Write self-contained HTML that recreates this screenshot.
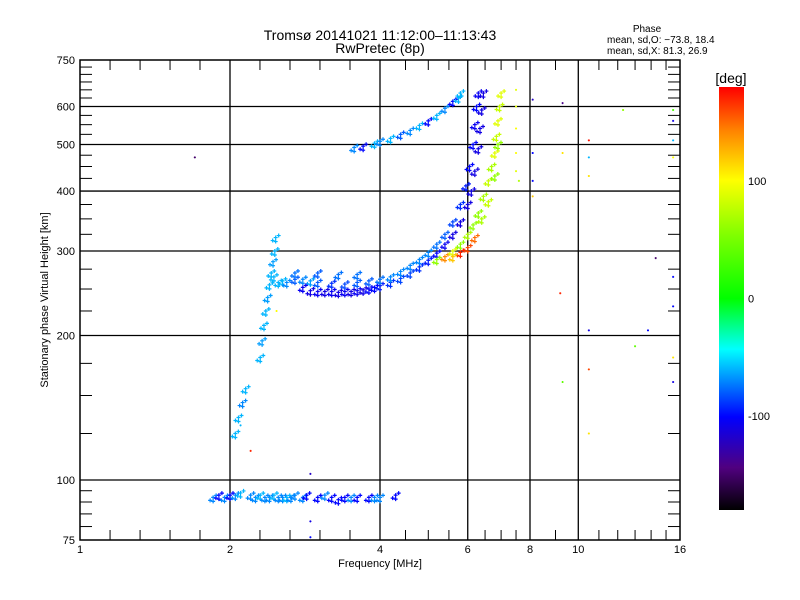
<!DOCTYPE html>
<html><head><meta charset="utf-8"><style>
html,body{margin:0;padding:0;background:#fff;width:800px;height:600px;overflow:hidden}
svg{display:block}
text{font-family:"Liberation Sans",sans-serif;fill:#000}
</style></head><body>
<svg id="chart" width="800" height="600" viewBox="0 0 800 600" xmlns="http://www.w3.org/2000/svg">
<defs>
<linearGradient id="cmap" x1="0" y1="1" x2="0" y2="0">
<stop offset="0" stop-color="#000000"/><stop offset="0.1" stop-color="#50007f"/><stop offset="0.22" stop-color="#0000ff"/><stop offset="0.38" stop-color="#00ffff"/><stop offset="0.5" stop-color="#00ff00"/><stop offset="0.65" stop-color="#80ff00"/><stop offset="0.78" stop-color="#ffff00"/><stop offset="0.9" stop-color="#ff8000"/><stop offset="1" stop-color="#ff0000"/>
</linearGradient>
</defs>
<text x="380" y="40" text-anchor="middle" font-size="14">Tromsø 20141021 11:12:00–11:13:43</text>
<text x="380" y="53" text-anchor="middle" font-size="14">RwPretec (8p)</text>
<g font-size="10">
<text x="647" y="32" text-anchor="middle">Phase</text>
<text x="607" y="43">mean, sd,O: −73.8, 18.4</text>
<text x="607" y="54">mean, sd,X:  81.3, 26.9</text>
</g>
<g id="grid"></g>
<g id="marks"></g>
<rect x="80" y="60" width="600" height="480" fill="none" stroke="#000" stroke-width="1.5"/>
<g id="ticks"></g>
<text x="380" y="567" text-anchor="middle" font-size="11">Frequency [MHz]</text>
<text transform="translate(48,300) rotate(-90)" text-anchor="middle" font-size="11">Stationary phase Virtual Height [km]</text>
<rect x="719" y="87" width="25" height="423" fill="url(#cmap)"/>
<text x="731" y="83" text-anchor="middle" font-size="14">[deg]</text>
<g id="cbticks" font-size="11"></g>
</svg>
<script>
var xMajor=[1,2,4,6,8,10,16];
var xMinor=[1.149,1.32,1.516,1.741,2.297,2.639,3.031,3.482,4.5,5,5.5,6.5,7,7.5,9,11,12,13,14,15];
var yMajor=[75,100,200,300,400,500,600,750];
var yMinor=[80,85,90,95,125,150,175,225,250,275,325,350,375,425,450,475,525,550,575,625,650,675,700,725];
var cbTicks=[100,0,-100];
var freq=[1.85,1.9,1.95,2.0,2.05,2.1,2.2,2.25,2.3,2.35,2.4,2.45,2.5,2.55,2.6,2.65,2.7,2.8,2.85,3.0,3.1,3.2,3.3,3.4,3.5,3.6,3.8,3.9,4.0,4.3,
2.05,2.08,2.12,2.15,2.3,2.32,2.34,2.36,2.38,2.4,2.42,2.44,2.46,2.47,2.45,2.5,2.55,2.6,2.7,2.8,2.9,
2.8,2.9,3.0,3.1,3.2,3.3,3.4,3.5,3.6,3.7,3.8,3.9,4.0,4.2,4.4,4.6,4.8,5.0,5.2,5.4,5.6,5.8,6.0,6.1,6.2,6.3,6.35,6.4,6.45,
3.0,3.2,3.4,3.6,3.8,4.0,4.2,4.4,4.6,4.8,5.0,5.2,5.4,5.6,5.8,5.95,6.05,6.15,6.2,6.25,6.3,
2.7,3.0,3.3,3.6,
5.2,5.4,5.6,5.8,6.0,6.15,6.3,6.45,6.6,6.7,6.8,6.85,6.9,6.95,7.0,6.9,6.8,6.6,6.4,6.2,6.0,5.8,5.6,
3.55,3.7,3.9,4.0,4.2,4.4,4.6,4.8,5.0,5.2,5.4,5.6,5.8,5.75,
1.7,2.1,2.2,2.48,2.9,2.9,2.9,7.5,7.5,7.5,7.5,7.5,7.6,8.1,8.1,8.1,8.1,9.3,9.3,9.2,9.3,10.5,10.5,10.5,10.5,10.5,10.5,12.3,13.0,13.8,14.3,15.5,15.5,15.5,15.5,15.5,15.5,15.5,15.5];
var height=[92,93,92,93,93,94,93,92,93,92,92,93,92,92,92,92,93,92,93,92,93,92,91,92,92,92,92,92,92,93,
125,135,145,155,180,195,210,225,240,255,270,285,300,320,265,258,260,258,262,262,260,
252,248,247,247,247,246,247,247,248,249,250,252,254,258,263,270,278,287,297,310,325,345,375,400,440,490,540,590,640,
258,257,256,258,260,262,265,272,280,288,298,310,325,345,375,410,450,500,550,600,640,
270,270,268,268,
288,292,300,310,325,340,360,390,420,450,480,520,560,600,640,500,430,380,350,320,305,298,292,
493,496,503,508,515,525,535,548,560,575,595,615,640,625,
470,130,115,225,103,82,76,650,600,540,480,440,420,420,390,480,620,610,480,245,160,510,470,430,205,170,125,590,190,205,290,590,560,510,470,265,230,180,160];
var phase=[-70,-100,-70,-100,-70,-60,-70,-70,-60,-70,-70,-60,-70,-70,-60,-70,-70,-70,-100,-100,-70,-100,-100,-100,-70,-100,-100,-70,-70,-100,
-60,-60,-70,-60,-60,-65,-60,-60,-65,-60,-60,-65,-60,-60,-60,-60,-60,-70,-80,-70,-65,
-105,-110,-105,-110,-105,-110,-105,-110,-105,-110,-100,-100,-95,-90,-85,-85,-90,-95,-100,-105,-110,-110,-110,-110,-110,-110,-110,-110,-110,
-80,-90,-85,-80,-80,-75,-70,-70,-70,-70,-70,-75,-80,-85,-90,-95,-100,-100,-105,-100,-105,
-75,-80,-75,-75,
60,140,90,60,70,60,60,70,80,70,90,80,90,80,90,60,60,80,70,150,160,170,120,
-70,-100,-60,-70,-60,-80,-70,-60,-100,-60,-70,-100,-60,-60,
-150,-60,170,100,-120,-110,-100,90,90,100,100,90,70,-100,120,-100,-120,-140,110,170,40,175,-60,110,-110,160,110,60,40,-100,-150,30,-110,-60,100,-100,-100,110,-110];
var traceCount=142;

var NS="http://www.w3.org/2000/svg";
function X(f){return 80+150*Math.log2(f);}
function Y(h){return 540-480*Math.log10(h/75);}
function el(tag,attrs,parent){var e=document.createElementNS(NS,tag);for(var k in attrs)e.setAttribute(k,attrs[k]);parent.appendChild(e);return e;}
var stops=[[0,[0,0,0]],[0.1,[80,0,127]],[0.22,[0,0,255]],[0.38,[0,255,255]],[0.5,[0,255,0]],[0.65,[128,255,0]],[0.78,[255,255,0]],[0.9,[255,128,0]],[1,[255,0,0]]];
function cmap(p){var t=(p+180)/360;t=Math.max(0,Math.min(1,t));for(var i=1;i<stops.length;i++){if(t<=stops[i][0]){var a=stops[i-1],b=stops[i],u=(t-a[0])/(b[0]-a[0]);var c=[0,1,2].map(function(j){return Math.round(a[1][j]+(b[1][j]-a[1][j])*u);});return "rgb("+c.join(",")+")";}}return "rgb(255,0,0)";}
var grid=document.getElementById('grid'),ticks=document.getElementById('ticks'),marks=document.getElementById('marks'),cbt=document.getElementById('cbticks');
xMajor.forEach(function(f){var x=X(f);
 if(f>1&&f<16){var g=el('line',{x1:x,y1:60,x2:x,y2:540,stroke:'#000','stroke-width':1.3},grid);
 
 }
 var t=el('text',{x:x,y:553,'text-anchor':'middle','font-size':11},ticks);t.textContent=f;
 
 });
xMinor.forEach(function(f){var x=X(f);
 var a=el('line',{x1:x,y1:540,x2:x,y2:530,stroke:'#000'},ticks);
 
 
 var b=el('line',{x1:x,y1:60,x2:x,y2:70,stroke:'#000'},ticks);
 
 });
yMajor.forEach(function(h){var y=Y(h);
 if(h>75&&h<750){var g=el('line',{x1:80,y1:y,x2:680,y2:y,stroke:'#000','stroke-width':1.3},grid);
 
 }
 var t=el('text',{x:75,y:y+4,'text-anchor':'end','font-size':11},ticks);t.textContent=h;
 
 });
yMinor.forEach(function(h){var y=Y(h);
 var a=el('line',{x1:80,y1:y,x2:92,y2:y,stroke:'#000'},ticks);
 
 
 var b=el('line',{x1:668,y1:y,x2:680,y2:y,stroke:'#000'},ticks);
 
 });
var offs=[[0,0],[-3,3],[3,-2],[0,4]];
for(var i=0;i<freq.length;i++){var x=X(freq[i]),y=Y(height[i]),c=cmap(phase[i]);
 var dense=i<traceCount;
 var g=el('path',{d:'',stroke:c,'stroke-width':1.2,fill:'none'},marks);
 
 
 var d='';var n=dense?offs.length:1;var r=dense?2:1;
 for(var k=0;k<n;k++){var px=x+offs[k][0],py=y+offs[k][1];d+='M'+(px-r)+' '+py+'h'+(2*r)+'M'+px+' '+(py-r)+'v'+(2*r);}
 g.setAttribute('d',d);}
cbTicks.forEach(function(v){var y=87+423*(1-(v+180)/360);
 var t=el('text',{x:748,y:y+4,'font-size':11},cbt);t.textContent=v;
 
 });
</script>
</body></html>
